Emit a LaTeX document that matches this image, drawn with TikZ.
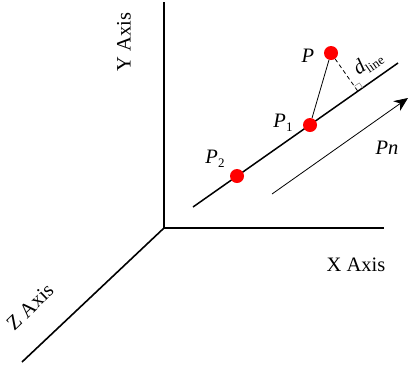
\documentclass[tikz,border=0pt]{standalone}
\usepackage{fontspec}
\setmainfont{Liberation Serif}
\usetikzlibrary{calc,arrows.meta}

\newcommand{\lowsub}[1]{\raisebox{-.45ex}{\fontsize{13}{14}\selectfont #1}}

\begin{document}
\begin{tikzpicture}[x=1pt,y=-1pt,>={Stealth[length=14pt,width=12pt]},
  axis/.style={line width=1.6pt},
  dot/.style={circle,fill=red,minimum size=14pt,inner sep=0pt},
  lbl/.style={font=\fontsize{20.5}{24}\selectfont,inner sep=0pt}]
\useasboundingbox (0,0) rectangle (409,373);
\coordinate (O) at (164,228);\coordinate (ytop) at (164,2);\coordinate (xend) at (384,228);\coordinate (zend) at (22,362);
\draw[axis] (ytop)--(O)--(xend);\draw[axis] (O)--(zend);
\node[lbl,rotate=90] (ylabel) at (124,42) {Y Axis};
\node[lbl] (xlabel) at (356,265) {X Axis};
\node[lbl,rotate=44] (zlabel) at (30,307) {Z Axis};
\coordinate (la) at (193,207);\coordinate (lb) at (398,63);
\draw[axis,line width=1.5pt] (la)--(lb);
\node[dot] (p) at (331,53) {};
\node[dot] (p1) at (310,125) {};
\node[dot] (p2) at (237,176) {};
\coordinate (foot) at ($(la)!(p)!(lb)$);
\draw[line width=.8pt] (p)--(p1);
\draw[line width=.8pt,dashed,dash pattern=on 4pt off 3pt] (p)--(foot);
\coordinate (ra) at ($(foot)!6pt!(p)$);\coordinate (rb) at ($(foot)!6pt!(lb)$);
\draw[gray,line width=.5pt] (ra)--($(ra)+(rb)-(foot)$)--(rb);
\node[lbl] (plabel) at (308,56) {\textit{P}};
\node[lbl] (p1label) at (283,123) {\textit{P}\lowsub{1}};
\node[lbl] (p2label) at (215,159) {\textit{P}\lowsub{2}};
\node[lbl,rotate=35] (dlabel) at (368,63) {\textit{d}\lowsub{line}};
\coordinate (a0) at (272,194);\coordinate (a1) at (408,98);
\draw[->,line width=.8pt] (a0)--(a1);
\node[lbl] (pnlabel) at (387,148) {\textit{Pn}};
\end{tikzpicture}
\end{document}
